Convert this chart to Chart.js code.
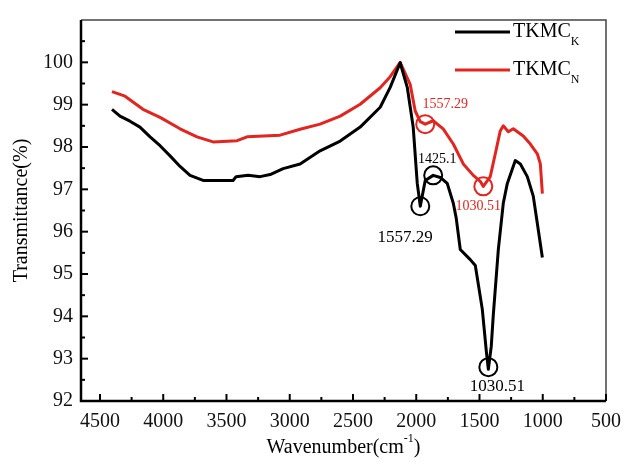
<!DOCTYPE html>
<html>
<head>
<meta charset="utf-8">
<script src="https://cdn.jsdelivr.net/npm/chart.js@4"></script>
<style>
  html, body { margin: 0; padding: 0; background: #fff; }
  #chart-container { width: 632px; height: 462px; }
</style>
</head>
<body>
<div id="chart-container"><canvas id="chart"></canvas></div>
<script>
// FTIR spectra (wavenumber cm-1, transmittance %)
const wnK = [4405, 4342, 4263, 4184, 4104, 4025, 3946, 3867, 3788, 3685, 3448, 3424, 3329, 3234, 3155, 3052,
  2918, 2760, 2601, 2443, 2285, 2206, 2127, 2071, 2024, 1992, 1968, 1929, 1866, 1810, 1755, 1707, 1684, 1652,
  1573, 1533, 1478, 1446, 1430, 1407, 1391, 1351, 1312, 1280, 1217, 1177, 1122, 1075, 1043, 1003];
const tK = [98.89, 98.73, 98.61, 98.47, 98.24, 98.03, 97.79, 97.54, 97.33, 97.21, 97.21, 97.30, 97.33, 97.30, 97.35, 97.49,
  97.60, 97.91, 98.14, 98.47, 98.94, 99.41, 99.99, 99.41, 98.47, 97.14, 96.60, 97.21, 97.33, 97.28, 97.14, 96.67, 96.32, 95.58,
  95.34, 95.20, 94.17, 93.17, 92.75, 93.29, 94.03, 95.58, 96.67, 97.14, 97.68, 97.60, 97.30, 96.84, 96.20, 95.39];

const wnN = [4405, 4302, 4160, 4025, 3867, 3733, 3606, 3416, 3337, 3076, 2918, 2760, 2601, 2443, 2285, 2206, 2127,
  2048, 2008, 1968, 1929, 1866, 1787, 1707, 1628, 1549, 1494, 1470, 1415, 1375, 1336, 1312, 1272, 1233, 1154,
  1098, 1043, 1019, 1003];
const tN = [99.31, 99.20, 98.89, 98.70, 98.43, 98.24, 98.12, 98.15, 98.24, 98.28, 98.42, 98.54, 98.73, 99.01, 99.40, 99.66, 100.0,
  99.48, 98.85, 98.60, 98.54, 98.62, 98.43, 98.07, 97.60, 97.33, 97.19, 97.07, 97.30, 97.84, 98.38, 98.50, 98.36, 98.43, 98.26,
  98.07, 97.84, 97.60, 96.90];

const seriesNames = ["TKMC", "TKMC"];
const seriesSubs = ["K", "N"];
const seriesColors = ["#000000", "#e3241f"];

const xTicks = [4500, 4000, 3500, 3000, 2500, 2000, 1500, 1000, 500];
const yTicks = [92, 93, 94, 95, 96, 97, 98, 99, 100];

// marked peaks: circle centres
const circleX = [1968, 1866, 1430, 1929, 1470];
const circleY = [96.60, 97.33, 92.80, 98.54, 97.07];
const circleSeries = [0, 0, 0, 1, 1];

// peak labels (centre of text)
const noteText = ["1557.29", "1425.1", "1030.51", "1557.29", "1030.51"];
const noteX = [2087, 1834, 1359, 1771, 1510];
const noteY = [95.86, 97.72, 92.35, 99.01, 96.60];
const noteSeries = [0, 0, 0, 1, 1];
const noteSize = [17, 14, 17, 14, 14];

const FONT = "'Liberation Serif', 'Times New Roman', serif";

const MARGIN = { top: 15, right: 26, left: 81, bottom: 61 };

function toPoints(xs, ys) {
  return xs.map((x, i) => ({ x: x, y: ys[i] }));
}

// frame, inward ticks, axis titles, legend and peak marks
const extras = {
  id: "extras",
  beforeDatasetsDraw(chart) {
    const ctx = chart.ctx;
    const xS = chart.scales.x, yS = chart.scales.y;
    ctx.save();
    ctx.textAlign = "center";
    ctx.textBaseline = "middle";
    for (let i = 0; i < noteText.length; i++) {
      ctx.fillStyle = seriesColors[noteSeries[i]];
      ctx.font = noteSize[i] + "px " + FONT;
      ctx.fillText(noteText[i], xS.getPixelForValue(noteX[i]), yS.getPixelForValue(noteY[i]));
    }
    ctx.restore();
  },
  afterDatasetsDraw(chart) {
    const ctx = chart.ctx;
    const a = chart.chartArea;
    const xS = chart.scales.x, yS = chart.scales.y;
    ctx.save();

    // peak circles
    ctx.lineWidth = 2;
    for (let i = 0; i < circleX.length; i++) {
      ctx.strokeStyle = seriesColors[circleSeries[i]];
      ctx.beginPath();
      ctx.arc(xS.getPixelForValue(circleX[i]), yS.getPixelForValue(circleY[i]), 9, 0, Math.PI * 2);
      ctx.stroke();
    }

    // frame
    ctx.strokeStyle = "#444";
    ctx.lineWidth = 1.5;
    ctx.beginPath();
    ctx.moveTo(a.left, a.top);
    ctx.lineTo(a.right, a.top);
    ctx.lineTo(a.right, a.bottom);
    ctx.stroke();
    ctx.strokeStyle = "#000";
    ctx.lineWidth = 2.5;
    ctx.beginPath();
    ctx.moveTo(a.left, a.top);
    ctx.lineTo(a.left, a.bottom);
    ctx.lineTo(a.right, a.bottom);
    ctx.stroke();

    // inward ticks, major + minor halfway
    ctx.lineWidth = 2;
    xS.ticks.forEach((t, i) => {
      const px = xS.getPixelForValue(t.value);
      ctx.beginPath();
      ctx.moveTo(px, a.bottom);
      ctx.lineTo(px, a.bottom - 7);
      ctx.stroke();
      if (i < xS.ticks.length - 1) {
        const mx = xS.getPixelForValue((t.value + xS.ticks[i + 1].value) / 2);
        ctx.beginPath();
        ctx.moveTo(mx, a.bottom);
        ctx.lineTo(mx, a.bottom - 4);
        ctx.stroke();
      }
    });
    yS.ticks.forEach((t, i) => {
      const py = yS.getPixelForValue(t.value);
      ctx.beginPath();
      ctx.moveTo(a.left, py);
      ctx.lineTo(a.left + 7, py);
      ctx.stroke();
      const mv = t.value + 0.5;
      if (mv < yS.max) {
        const my = yS.getPixelForValue(mv);
        ctx.beginPath();
        ctx.moveTo(a.left, my);
        ctx.lineTo(a.left + 4, my);
        ctx.stroke();
      }
    });

    // axis titles
    ctx.fillStyle = "#000";
    ctx.font = "20px " + FONT;
    ctx.textBaseline = "middle";
    ctx.save();
    ctx.translate(22, (a.top + a.bottom) / 2);
    ctx.rotate(-Math.PI / 2);
    ctx.textAlign = "center";
    ctx.fillText("Transmittance(%)", 0, 0);
    ctx.restore();

    const partA = "Wavenumber(cm", partB = "-1", partC = ")";
    ctx.font = "20px " + FONT;
    const wA = ctx.measureText(partA).width, wC = ctx.measureText(partC).width;
    ctx.font = "12px " + FONT;
    const wB = ctx.measureText(partB).width;
    let tx = (a.left + a.right) / 2 - (wA + wB + wC) / 2;
    const ty = 448;
    ctx.textAlign = "left";
    ctx.font = "20px " + FONT;
    ctx.fillText(partA, tx, ty);
    tx += wA;
    ctx.font = "12px " + FONT;
    ctx.fillText(partB, tx, ty - 9);
    tx += wB;
    ctx.font = "20px " + FONT;
    ctx.fillText(partC, tx, ty);

    // legend
    chart.data.datasets.forEach((ds, i) => {
      const ly = 32 + i * 38;
      ctx.strokeStyle = ds.borderColor;
      ctx.lineWidth = 3;
      ctx.beginPath();
      ctx.moveTo(455, ly);
      ctx.lineTo(510, ly);
      ctx.stroke();
      ctx.fillStyle = "#000";
      ctx.font = "20px " + FONT;
      ctx.textAlign = "left";
      ctx.fillText(seriesNames[i], 513, ly);
      const w = ctx.measureText(seriesNames[i]).width;
      ctx.font = "12px " + FONT;
      ctx.fillText(seriesSubs[i], 513 + w, ly + 10);
    });

    ctx.restore();
  }
};

new Chart(document.getElementById("chart"), {
  type: "line",
  data: {
    datasets: [
      { label: seriesNames[0] + seriesSubs[0], data: toPoints(wnK, tK), borderColor: seriesColors[0], borderWidth: 3 },
      { label: seriesNames[1] + seriesSubs[1], data: toPoints(wnN, tN), borderColor: seriesColors[1], borderWidth: 3 }
    ]
  },
  options: {
    responsive: true,
    maintainAspectRatio: false,
    animation: false,
    layout: { padding: { top: MARGIN.top, right: MARGIN.right, left: 0, bottom: 0 } },
    elements: { point: { radius: 0 }, line: { tension: 0, borderJoinStyle: "round" } },
    plugins: { legend: { display: false }, tooltip: { enabled: false } },
    scales: {
      x: {
        type: "linear",
        reverse: true,
        min: 500,
        max: 4650,
        afterBuildTicks: s => { s.ticks = xTicks.map(v => ({ value: v })); },
        afterFit: s => { s.height = MARGIN.bottom; },
        grid: { display: false, drawTicks: false },
        border: { display: false },
        ticks: {
          padding: 9, color: "#111", font: { family: FONT, size: 20 }, maxRotation: 0, autoSkip: false,
          callback: v => String(v)
        }
      },
      y: {
        min: 92,
        max: 101,
        afterBuildTicks: s => { s.ticks = yTicks.map(v => ({ value: v })); },
        afterFit: s => { s.width = MARGIN.left; },
        grid: { display: false, drawTicks: false },
        border: { display: false },
        ticks: { padding: 8, color: "#111", font: { family: FONT, size: 20 }, autoSkip: false, callback: v => String(v) }
      }
    }
  },
  plugins: [extras]
});
</script>
</body>
</html>
